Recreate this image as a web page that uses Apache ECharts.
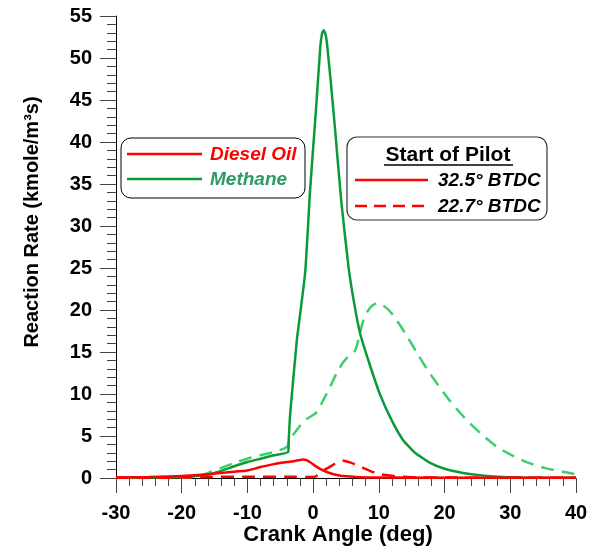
<!DOCTYPE html>
<html>
<head>
<meta charset="utf-8">
<script src="https://cdn.jsdelivr.net/npm/echarts@6/dist/echarts.min.js"></script>
<style>
html,body{margin:0;padding:0;background:#fff;}
#chart{width:597px;height:554px;}
</style>
</head>
<body>
<div id="chart"></div>
<script>
// ---- Data ----
var xTicks = [-30, -20, -10, 0, 10, 20, 30, 40];
var yTicks = [0, 5, 10, 15, 20, 25, 30, 35, 40, 45, 50, 55];

// Methane, start of pilot 32.5° BTDC (solid dark green)
var methane325X = [-30, -25, -20, -18, -16, -14, -12, -10, -8, -6, -3.8, -3.72, -3.55, -3.4, -2.48, -1.22, -0.46, 0.46, 1.1, 1.35, 1.6, 1.85, 2.1, 2.7, 3.35, 4.26, 5.37, 6.2, 7.15, 8.57, 10.2, 12, 13.7, 15.5, 17.8, 20, 22.8, 25, 28, 32, 40];
var methane325Y = [0.02, 0.05, 0.1, 0.2, 0.4, 0.85, 1.4, 1.9, 2.3, 2.7, 3.1, 4.5, 7.0, 8.5, 16.4, 24.4, 34.3, 44.2, 51.4, 52.9, 53.3, 52.9, 51.8, 47.0, 41.4, 33.1, 25.2, 21.0, 17.2, 13.6, 9.9, 6.8, 4.5, 3.0, 1.8, 1.1, 0.6, 0.35, 0.15, 0.05, 0.02];

// Methane, start of pilot 22.7° BTDC (dashed light green)
var methane227X = [-30, -20, -18, -16, -14, -12, -10, -8, -6, -4, -3.6, -2.4, -1.2, 0, 0.6, 1.5, 2.6, 3.6, 4.6, 5.5, 6.4, 7.0, 7.65, 8.6, 9.7, 10.5, 11.5, 12.7, 14.2, 15.8, 17.3, 18.8, 20.8, 22.9, 25.5, 28, 30.5, 33, 35.5, 38, 40];
var methane227Y = [0, 0.02, 0.1, 0.6, 1.2, 1.8, 2.3, 2.7, 3.1, 3.7, 4.5, 5.8, 6.9, 7.5, 7.9, 9.2, 10.9, 12.5, 13.8, 14.6, 15.2, 16.8, 18.8, 20.2, 20.8, 20.6, 20.0, 18.8, 17.0, 14.9, 13.0, 11.3, 9.2, 7.3, 5.3, 3.7, 2.6, 1.75, 1.15, 0.75, 0.45];

// Diesel oil, start of pilot 32.5° BTDC (solid red)
var diesel325X = [-30, -25, -20, -16, -12, -10, -8, -6, -4, -3, -2, -1.5, -1.0, -0.5, 0.5, 1.5, 2.6, 4, 5.1, 7, 10, 40];
var diesel325Y = [0.05, 0.12, 0.25, 0.45, 0.75, 0.9, 1.3, 1.65, 1.9, 2.0, 2.15, 2.2, 2.12, 1.9, 1.35, 0.9, 0.56, 0.3, 0.2, 0.1, 0.05, 0.02];

// Diesel oil, start of pilot 22.7° BTDC (dashed red)
var diesel227X = [-30, -20, -16, -10, -4, 0, 0.4, 1.1, 1.8, 2.6, 3.5, 4.6, 5.8, 7.15, 8.5, 9.7, 11, 12.7, 15, 20, 40];
var diesel227Y = [0.02, 0.05, 0.12, 0.15, 0.15, 0.12, 0.2, 0.56, 1.0, 1.35, 1.8, 2.06, 1.8, 1.35, 0.9, 0.56, 0.35, 0.2, 0.1, 0.05, 0.03];

function pairs(xs, ys) { return xs.map(function (x, i) { return [x, ys[i]]; }); }

var FONT = "'Liberation Sans', Arial, sans-serif";
var RED = '#ff0000';
var DKGREEN = '#0a9a3a';
var LTGREEN = '#3ecf6d';

var chart = echarts.init(document.getElementById('chart'));

function lineSeries(name, xs, ys, color, dashed, smooth) {
  return {
    name: name,
    type: 'line',
    data: pairs(xs, ys),
    showSymbol: false,
    smooth: smooth,
    lineStyle: { color: color, width: 2.5, type: dashed ? [13, 8] : 'solid' },
    itemStyle: { color: color },
    animation: false
  };
}

var option = {
  backgroundColor: '#fff',
  animation: false,
  grid: { left: 116, right: 21, top: 16, bottom: 76, containLabel: false },
  xAxis: {
    type: 'value',
    min: xTicks[0], max: xTicks[xTicks.length - 1], interval: 10,
    axisLine: { show: true, onZero: false, lineStyle: { color: '#000', width: 1 } },
    axisTick: { show: true, inside: false, length: 15, lineStyle: { color: '#444', width: 1 } },
    minorTick: { show: true, splitNumber: 5, length: 8, lineStyle: { color: '#444', width: 1 } },
    splitLine: { show: false },
    axisLabel: { color: '#000', fontFamily: FONT, fontWeight: 'bold', fontSize: 20, margin: 25,
      formatter: function (v) { return String(v); } }
  },
  yAxis: {
    type: 'value',
    min: yTicks[0], max: yTicks[yTicks.length - 1], interval: 5,
    axisLine: { show: true, onZero: false, lineStyle: { color: '#000', width: 1 } },
    axisTick: { show: true, inside: false, length: 16, lineStyle: { color: '#444', width: 1 } },
    minorTick: { show: true, splitNumber: 5, length: 9, lineStyle: { color: '#444', width: 1 } },
    splitLine: { show: false },
    axisLabel: { color: '#000', fontFamily: FONT, fontWeight: 'bold', fontSize: 20, margin: 24 }
  },
  series: [
    lineSeries('Methane 22.7', methane227X, methane227Y, LTGREEN, true, 0.3),
    lineSeries('Methane 32.5', methane325X, methane325Y, DKGREEN, false, 0.15),
    lineSeries('Diesel 22.7', diesel227X, diesel227Y, RED, true, 0.3),
    lineSeries('Diesel 32.5', diesel325X, diesel325Y, RED, false, 0.3)
  ],
  graphic: [
    // axis titles
    { type: 'text', x: 338, y: 535, style: { text: 'Crank Angle (deg)', font: 'bold 22px ' + FONT, fill: '#000', align: 'center', verticalAlign: 'middle' } },
    { type: 'text', x: 32, y: 222, rotation: Math.PI / 2, style: { text: 'Reaction Rate (kmole/m³s)', font: 'bold 20px ' + FONT, fill: '#000', align: 'center', verticalAlign: 'middle' } },
    // legend box 1 (fuel)
    { type: 'rect', shape: { x: 121, y: 138, width: 184, height: 60, r: 10 }, style: { fill: '#fff', stroke: '#000', lineWidth: 1 }, z: 10 },
    { type: 'line', shape: { x1: 127, y1: 154, x2: 202, y2: 154 }, style: { stroke: RED, lineWidth: 2.5 }, z: 11 },
    { type: 'text', x: 210, y: 155, style: { text: 'Diesel Oil', font: 'italic bold 19px ' + FONT, fill: RED, align: 'left', verticalAlign: 'middle' }, z: 11 },
    { type: 'line', shape: { x1: 127, y1: 179, x2: 202, y2: 179 }, style: { stroke: DKGREEN, lineWidth: 2.5 }, z: 11 },
    { type: 'text', x: 210, y: 180, style: { text: 'Methane', font: 'italic bold 19px ' + FONT, fill: '#2e9960', align: 'left', verticalAlign: 'middle' }, z: 11 },
    // legend box 2 (start of pilot)
    { type: 'rect', shape: { x: 347, y: 137, width: 200, height: 83, r: 10 }, style: { fill: '#fff', stroke: '#333', lineWidth: 1.2 }, z: 10 },
    { type: 'text', x: 448, y: 155, style: { text: 'Start of Pilot', font: 'bold 21px ' + FONT, fill: '#000', align: 'center', verticalAlign: 'middle' }, z: 11 },
    { type: 'line', shape: { x1: 384, y1: 165, x2: 513, y2: 165 }, style: { stroke: '#000', lineWidth: 1.5 }, z: 11 },
    { type: 'line', shape: { x1: 355, y1: 180, x2: 428, y2: 180 }, style: { stroke: RED, lineWidth: 2.5 }, z: 11 },
    { type: 'text', x: 438, y: 181, style: { text: '32.5° BTDC', font: 'italic bold 19px ' + FONT, fill: '#000', align: 'left', verticalAlign: 'middle' }, z: 11 },
    { type: 'line', shape: { x1: 355, y1: 206, x2: 428, y2: 206 }, style: { stroke: RED, lineWidth: 2.5, lineDash: [12, 7] }, z: 11 },
    { type: 'text', x: 438, y: 207, style: { text: '22.7° BTDC', font: 'italic bold 19px ' + FONT, fill: '#000', align: 'left', verticalAlign: 'middle' }, z: 11 }
  ]
};
chart.setOption(option);
</script>
</body>
</html>
